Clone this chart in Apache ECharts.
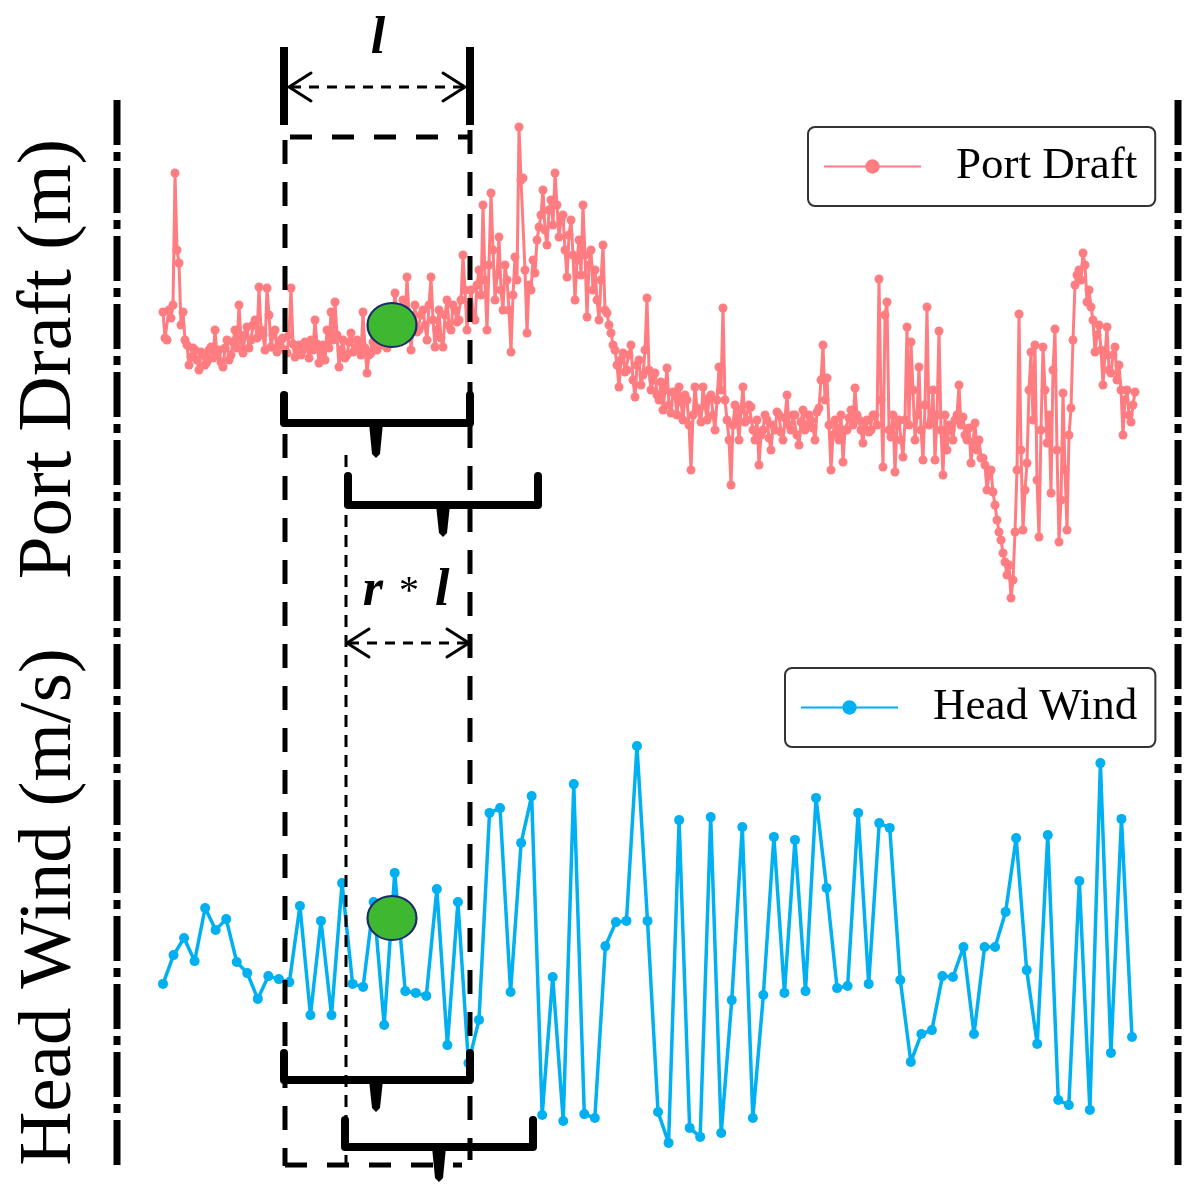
<!DOCTYPE html>
<html><head><meta charset="utf-8">
<script src="https://cdn.jsdelivr.net/npm/echarts@6/dist/echarts.min.js"></script>
<style>html,body{margin:0;padding:0;background:#fff}#c{width:1201px;height:1199px}</style>
</head><body><div id="c"></div>
<script>
// Port draft (m), sampled sequence
const draftValues = [
8.98,8.72,8.70,9.00,8.92,9.05,10.37,9.60,9.47,8.85,
8.98,8.70,8.65,8.45,8.53,8.62,8.60,8.50,8.40,8.58,
8.55,8.45,8.48,8.60,8.63,8.52,8.80,8.55,8.60,8.48,
8.43,8.62,8.70,8.50,8.55,8.68,8.80,8.62,9.05,8.70,
8.57,8.75,8.83,8.62,8.70,8.85,8.90,8.72,9.23,8.80,
8.75,8.60,9.22,8.95,8.63,8.75,8.80,8.58,8.65,8.70,
8.72,8.60,8.57,8.75,9.22,8.66,8.53,8.62,8.65,8.55,
8.60,8.68,8.63,8.52,8.70,8.60,8.90,8.66,8.47,8.58,
8.65,8.50,8.80,8.62,8.98,8.70,9.08,8.75,8.43,8.60,
8.70,8.52,8.55,8.68,8.77,8.58,8.60,8.70,8.65,8.55,
8.98,8.62,8.37,8.55,8.57,8.68,8.65,8.60,8.70,8.75,
8.65,8.72,8.62,8.85,8.80,8.95,9.17,8.90,8.80,9.00,
9.10,8.85,9.33,8.95,8.60,8.85,9.05,8.78,8.80,8.95,
9.00,8.85,8.70,9.05,9.33,8.90,8.63,8.80,9.00,8.72,
8.63,8.95,9.10,8.85,8.80,9.05,9.00,8.88,8.90,9.10,
9.55,9.20,8.80,9.05,9.20,8.95,8.90,9.25,9.40,9.15,
10.05,9.30,8.80,9.45,10.17,9.60,9.10,9.35,9.73,9.20,
9.00,9.45,9.30,9.00,8.58,9.15,9.53,9.30,10.83,10.30,
10.32,9.40,8.77,9.25,9.20,9.50,9.37,9.70,9.83,9.95,
10.20,9.80,9.65,10.00,10.10,9.85,10.37,10.05,9.73,9.90,
9.95,9.60,9.33,9.75,9.90,9.55,9.10,9.50,9.70,9.35,
10.05,9.55,8.93,9.45,9.60,9.20,9.40,9.10,8.90,9.30,
9.65,9.00,8.97,8.85,8.77,8.65,8.60,8.45,8.23,8.50,
8.57,8.38,8.40,8.55,8.65,8.30,8.13,8.45,8.50,8.25,
8.35,8.60,9.12,8.40,8.20,8.30,8.37,8.15,8.10,8.28,
8.00,8.20,8.42,8.05,7.97,8.18,8.15,7.95,8.23,8.08,
7.90,8.15,8.10,7.85,7.40,7.95,8.23,8.02,8.00,7.88,
8.23,8.05,7.90,8.12,8.15,7.95,7.80,8.10,8.43,8.20,
9.02,8.10,7.90,7.70,7.25,7.85,8.05,7.92,7.70,8.00,
8.23,7.88,7.90,8.05,8.03,7.80,7.70,7.90,7.45,7.75,
7.80,7.95,7.90,7.72,7.60,7.85,7.80,7.98,7.95,7.78,
7.70,7.92,8.15,7.85,7.80,7.95,7.95,7.75,7.65,7.88,
8.00,7.80,7.85,7.95,7.90,7.82,7.70,7.98,8.02,8.30,
8.65,8.10,8.32,7.85,7.40,7.75,7.90,7.82,7.70,7.95,
7.48,7.80,7.80,7.92,8.00,7.85,8.22,7.95,7.90,7.80,
7.67,7.88,7.90,7.78,7.80,7.95,7.95,7.85,9.31,8.10,
7.43,8.95,9.08,7.80,7.73,7.95,7.38,7.85,7.90,7.70,
7.53,7.90,8.83,7.85,8.68,8.20,7.70,7.95,8.43,7.80,
7.50,8.05,9.03,7.85,7.90,8.20,7.50,7.95,8.79,7.80,
7.35,7.95,7.60,7.85,7.80,7.70,7.90,7.95,8.25,7.85,
7.93,7.75,7.70,7.82,7.47,7.68,7.87,7.60,7.70,7.52,
7.52,7.45,7.20,7.35,7.40,7.18,7.05,6.90,6.78,6.70,
6.57,6.48,6.35,6.45,6.12,6.30,6.78,7.40,8.96,7.60,
6.80,7.20,7.47,8.20,8.58,7.90,8.65,7.30,6.73,7.80,
8.63,8.20,7.67,7.95,7.17,8.40,8.81,7.60,6.68,7.10,
8.17,7.40,6.80,7.75,8.02,8.70,9.25,9.35,9.40,9.30,
9.57,9.45,9.08,9.20,9.03,8.90,8.58,8.75,8.85,8.60,
8.25,8.55,8.83,8.40,8.37,8.55,8.63,8.30,8.45,8.20,
7.75,8.10,8.20,7.95,7.88,8.05,8.18
];
// Head wind (m/s)
const windValues = [
5.87,6.83,7.40,6.63,8.40,7.67,8.03,6.60,6.23,5.37,
6.13,6.03,5.93,8.47,4.83,7.97,4.83,9.23,5.87,5.77,
8.60,4.50,9.57,5.63,5.57,5.47,9.03,3.83,8.60,3.23,
4.67,11.57,11.73,5.60,10.57,12.13,1.50,6.10,1.30,12.53,
1.53,1.40,7.13,7.93,7.97,13.80,7.97,1.60,0.57,11.33,
1.07,0.77,11.43,0.90,5.33,11.10,1.40,5.50,10.77,5.57,
10.67,5.63,12.07,9.07,5.73,5.80,11.57,5.87,11.23,11.07,
6.00,3.27,4.20,4.33,6.13,6.10,7.10,4.20,7.10,7.10,
8.27,10.73,6.33,3.87,10.83,2.00,1.83,9.30,1.67,13.23,
3.57,11.37,4.10
];
const seriesNames = ['Port Draft', 'Head Wind'];
const axisTitles = ['Port Draft (m)', 'Head Wind (m/s)'];
const colors = ['#FF7C80', '#00B0F0'];

const SERIF = '"Liberation Serif", "Times New Roman", serif';
const chart = echarts.init(document.getElementById('c'), null, {renderer: 'canvas'});

function L(x1, y1, x2, y2, w, dash) {
  return {type: 'line', z: 100, shape: {x1, y1, x2, y2},
    style: {stroke: '#000', lineWidth: w, lineDash: dash || null, lineCap: 'butt'}};
}
function PL(pts, w) {
  return {type: 'polyline', z: 100, shape: {points: pts},
    style: {stroke: '#000', fill: null, lineWidth: w, lineJoin: 'round', lineCap: 'round'}};
}
function brace(xl, xr, ytop, yh, xt, ytip) {
  return [
    PL([[xl, ytop], [xl, yh], [xr, yh], [xr, ytop]], 8),
    {type: 'polygon', z: 100, shape: {points: [[xt - 7, yh], [xt + 7, yh], [xt + 4, ytip - 4], [xt, ytip], [xt - 4, ytip - 4]]},
      style: {fill: '#000'}}
  ];
}
function arrow(x1, x2, y, w) {
  return [
    L(x1 + 3, y, x2 - 3, y, w, [10, 8]),
    PL([[x1 + 23, y - 14], [x1 + 1, y], [x1 + 23, y + 14]], 3),
    PL([[x2 - 23, y - 14], [x2 - 1, y], [x2 - 23, y + 14]], 3)
  ];
}
function dot(cx, cy) {
  return {type: 'circle', z: 110, x: cx, y: cy, scaleY: 0.9, shape: {cx: 0, cy: 0, r: 24.5},
    style: {fill: '#3DB830', stroke: '#1B2A6B', lineWidth: 2.2}};
}

const graphics = [].concat(
  [L(117, 100, 117, 1166, 7, [45, 7, 9, 7]), L(1178, 100, 1178, 1166, 7, [45, 7, 9, 7])],
  [{type: 'text', z: 100, x: 50, y: 359, rotation: Math.PI / 2,
     style: {text: axisTitles[0], fontSize: 77, fontFamily: SERIF, fill: '#000', align: 'center', verticalAlign: 'middle'}},
   {type: 'text', z: 100, x: 50, y: 907, rotation: Math.PI / 2,
     style: {text: axisTitles[1], fontSize: 75, fontFamily: SERIF, fill: '#000', align: 'center', verticalAlign: 'middle'}}],
  [L(284, 47, 284, 125, 8), L(470, 47, 470, 125, 8)],
  arrow(288, 466, 87, 3),
  [{type: 'text', z: 100, x: 378, y: 40,
     style: {text: 'l', fontSize: 52, fontStyle: 'italic', fontWeight: 'bold', fontFamily: SERIF, fill: '#000', align: 'center', verticalAlign: 'middle'}}],
  [L(290, 137, 470, 137, 5, [22, 20]), L(285, 140, 285, 1166, 5, [24, 18]),
   L(470, 130, 470, 1160, 5, [24, 18]), L(285, 1165, 462, 1165, 5, [22, 20])],
  [L(346, 455, 346, 1165, 3, [12, 8])],
  brace(284, 470, 395, 423, 376, 458),
  brace(348, 538, 476, 505, 443, 537),
  brace(284, 470, 1053, 1080, 376, 1112),
  brace(345, 533, 1120, 1147, 439, 1182),
  arrow(346, 470, 643, 3),
  [{type: 'text', z: 100, x: 406, y: 592,
     style: {text: '{a|r}{b|*}{a|l}', fontFamily: SERIF, fill: '#000', align: 'center', verticalAlign: 'middle',
       rich: {a: {fontSize: 52, fontStyle: 'italic', fontWeight: 'bold', fontFamily: SERIF, fill: '#000'},
              b: {fontSize: 40, fontFamily: SERIF, fill: '#000', padding: [0, 16, 0, 16]}}}}],
  [dot(392, 325), dot(392, 918)]
);

function legendCfg(name, left, top) {
  return {data: [name], left: left, top: top, orient: 'horizontal',
    itemWidth: 97, itemHeight: 18, padding: [17, 18, 17, 15],
    backgroundColor: '#fff', borderColor: '#333', borderWidth: 2, borderRadius: 7,
    selectedMode: false,
    textStyle: {fontFamily: SERIF, fontSize: 45, color: '#000', padding: [0, 0, 0, 30]}};
}

const option = {
  animation: false,
  backgroundColor: '#fff',
  legend: [legendCfg(seriesNames[0], 808, 127), legendCfg(seriesNames[1], 785, 668)],
  grid: [
    {left: 163, right: 66, top: 110, height: 500},
    {left: 163, right: 69, top: 740, height: 420}
  ],
  xAxis: [
    {type: 'category', gridIndex: 0, boundaryGap: false, show: false, data: draftValues.map((_, i) => i)},
    {type: 'category', gridIndex: 1, boundaryGap: false, show: false, data: windValues.map((_, i) => i)}
  ],
  yAxis: [
    {type: 'value', gridIndex: 0, min: 6, max: 11, show: false},
    {type: 'value', gridIndex: 1, min: 0, max: 14, show: false}
  ],
  series: [
    {name: seriesNames[0], type: 'line', xAxisIndex: 0, yAxisIndex: 0, data: draftValues,
     color: colors[0], showAllSymbol: true, symbol: 'circle', symbolSize: 9,
     lineStyle: {width: 3, color: colors[0]}, itemStyle: {color: colors[0]}},
    {name: seriesNames[1], type: 'line', xAxisIndex: 1, yAxisIndex: 1, data: windValues,
     color: colors[1], showAllSymbol: true, symbol: 'circle', symbolSize: 10,
     lineStyle: {width: 3.5, color: colors[1]}, itemStyle: {color: colors[1]}}
  ],
  graphic: graphics
};
chart.setOption(option);
</script>
</body></html>
